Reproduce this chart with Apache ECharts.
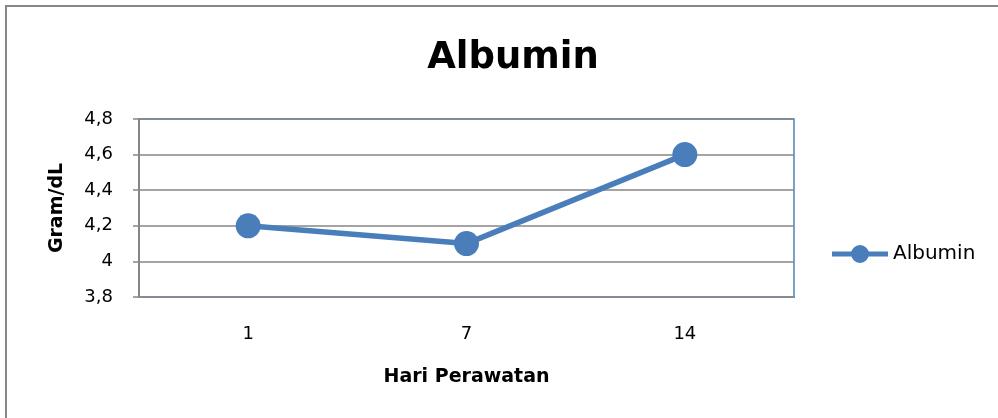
<!DOCTYPE html>
<html>
<head>
<meta charset="utf-8">
<script src="https://cdn.jsdelivr.net/npm/echarts@6/dist/echarts.min.js"></script>
<style>html,body{margin:0;padding:0;background:#fff}#c{width:998px;height:418px}</style>
</head>
<body>
<div id="c"></div>
<script>
const categories = ['1', '7', '14'];
const albumin = [4.2, 4.1, 4.6];
const seriesName = 'Albumin';
const titleText = 'Albumin';
const xAxisName = 'Hari Perawatan';
const yAxisName = 'Gram/dL';

const chart = echarts.init(document.getElementById('c'));
const fam = 'DejaVu Sans';
const legendIcon = 'path://M0 6.5 H56 V11.5 H0 Z M19 9 A9 9 0 1 1 37 9 A9 9 0 1 1 19 9 Z';
chart.setOption({
  animation: false,
  backgroundColor: '#fff',
  title: {
    text: titleText, left: 508, textAlign: 'center', top: 35,
    textStyle: { fontFamily: fam, fontWeight: 'bold', fontSize: 37, color: '#000' }
  },
  graphic: [{
    type: 'rect', shape: { x: 6, y: 6, width: 1200, height: 600 },
    style: { fill: 'none', stroke: '#878787', lineWidth: 2 }, silent: true
  }],
  legend: {
    left: 832, top: 244, padding: 0, itemWidth: 56, itemHeight: 18, itemGap: 5,
    icon: legendIcon,
    textStyle: { fontFamily: fam, fontSize: 20, color: '#000' },
    data: [seriesName]
  },
  grid: {
    left: 139, right: 204, top: 119, bottom: 121, show: true,
    borderColor: '#4F81BD', borderWidth: 1.5, containLabel: false
  },
  xAxis: {
    type: 'category', data: categories, boundaryGap: true,
    name: xAxisName, nameLocation: 'middle', nameGap: 71,
    nameTextStyle: { fontFamily: fam, fontWeight: 'bold', fontSize: 19, color: '#000' },
    axisLine: { lineStyle: { color: '#868A92', width: 2 } },
    axisTick: { show: false },
    axisLabel: { margin: 28, fontFamily: fam, fontSize: 18, color: '#000' }
  },
  yAxis: {
    type: 'value', min: 3.8, max: 4.8, interval: 0.2,
    name: yAxisName, nameLocation: 'middle', nameGap: 72,
    nameTextStyle: { fontFamily: fam, fontWeight: 'bold', fontSize: 19, color: '#000' },
    axisLine: { show: true, lineStyle: { color: '#868686', width: 2 } },
    axisTick: { show: true, length: 6, lineStyle: { color: '#868686', width: 1.5 } },
    splitLine: { lineStyle: { color: '#868686', width: 1.5 } },
    axisLabel: {
      margin: 26, fontFamily: fam, fontSize: 18, color: '#000',
      formatter: v => String(Math.round(v * 10) / 10).replace('.', ',')
    }
  },
  series: [{
    name: seriesName, type: 'line', data: albumin,
    color: '#4A7EBB',
    symbol: 'circle', symbolSize: 25,
    lineStyle: { width: 5.5, color: '#4A7EBB' },
    itemStyle: { color: '#4A7EBB' }
  }]
});
</script>
</body>
</html>
